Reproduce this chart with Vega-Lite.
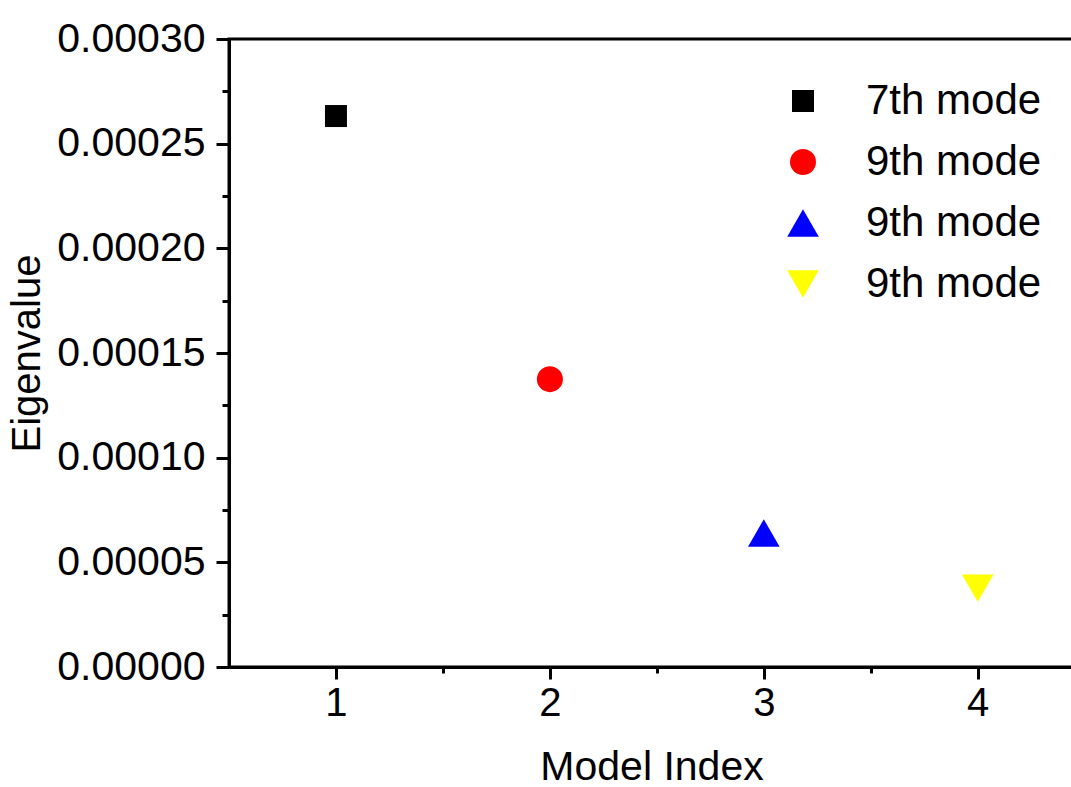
{
  "$schema": "https://vega.github.io/schema/vega-lite/v6.json",
  "width": 845,
  "height": 628,
  "autosize": "none",
  "padding": {"left": 229, "top": 39, "right": 0, "bottom": 120},
  "background": "white",
  "config": {
    "font": "Liberation Sans",
    "view": {"stroke": "black", "strokeWidth": 3},
    "axis": {"grid": false, "domainColor": "black", "domainWidth": 3, "tickColor": "black", "tickWidth": 3, "labelColor": "black", "titleColor": "black", "labelFont": "Liberation Sans", "titleFont": "Liberation Sans", "titleFontWeight": "normal"}
  },
  "data": {"values": [
    {"index": 1, "eigenvalue": 0.0002632, "series": "7th mode"},
    {"index": 2, "eigenvalue": 0.0001375, "series": "9th mode"},
    {"index": 3, "eigenvalue": 0.0000640, "series": "9th mode #3"},
    {"index": 4, "eigenvalue": 0.0000377, "series": "9th mode #4"}
  ]},
  "layer": [
    {
      "mark": {"type": "point", "filled": true, "opacity": 1},
      "encoding": {
        "x": {"field": "index", "type": "quantitative", "scale": {"domain": [0.5, 4.45], "nice": false, "zero": false},
          "axis": {"title": "Model Index", "values": [1, 2, 3, 4], "format": "d", "tickSize": 12, "labelFontSize": 40, "titleFontSize": 41, "labelPadding": 4, "titlePadding": 24, "labelFlush": false}},
        "y": {"field": "eigenvalue", "type": "quantitative", "scale": {"domain": [0, 0.0003], "nice": false},
          "axis": {"title": "Eigenvalue", "values": [0, 0.00005, 0.0001, 0.00015, 0.0002, 0.00025, 0.0003], "format": ".5f", "tickSize": 13, "labelFontSize": 41, "titleFontSize": 40, "labelPadding": 11, "titlePadding": 9, "labelFlush": false}},
        "color": {"field": "series", "type": "ordinal",
          "scale": {"domain": ["7th mode", "9th mode", "9th mode #3", "9th mode #4"], "range": ["#000000", "#ff0000", "#0000ff", "#ffff00"]},
          "legend": {"orient": "none", "legendX": 553, "legendY": 41, "title": null, "labelFontSize": 42, "labelLimit": 400, "labelColor": "black", "labelOffset": 42, "rowPadding": 19, "padding": 0, "symbolStrokeWidth": 0, "symbolOpacity": 1, "labelExpr": "split(datum.label, ' #')[0]"}},
        "shape": {"field": "series", "type": "ordinal",
          "scale": {"domain": ["7th mode", "9th mode", "9th mode #3", "9th mode #4"], "range": ["square", "circle", "triangle-up", "triangle-down"]}},
        "size": {"field": "series", "type": "ordinal",
          "scale": {"type": "ordinal", "domain": ["7th mode", "9th mode", "9th mode #3", "9th mode #4"], "range": [484, 676, 1000, 1000]}}
      }
    },
    {
      "mark": {"type": "point", "opacity": 0},
      "encoding": {
        "x": {"field": "index", "type": "quantitative",
          "axis": {"orient": "bottom", "title": null, "values": [1.5, 2.5, 3.5], "labels": false, "domain": false, "tickSize": 6}},
        "y": {"field": "eigenvalue", "type": "quantitative",
          "axis": {"orient": "left", "title": null, "values": [0.000025, 0.000075, 0.000125, 0.000175, 0.000225, 0.000275], "labels": false, "domain": false, "tickSize": 7}}
      }
    }
  ],
  "resolve": {"axis": {"x": "independent", "y": "independent"}}
}
